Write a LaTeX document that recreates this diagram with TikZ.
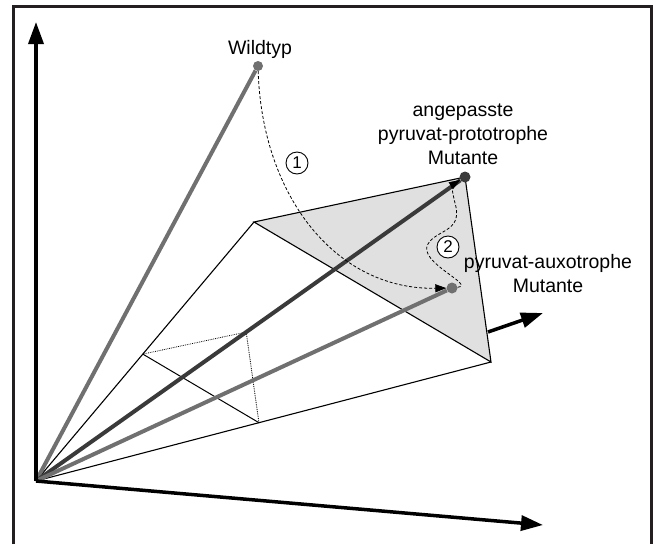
\documentclass[tikz,border=0pt]{standalone}
\usepackage{fontspec}
\setmainfont{Liberation Sans}
\usetikzlibrary{arrows.meta,calc}
\definecolor{vecgray}{RGB}{112,112,112}
\definecolor{vecdark}{RGB}{58,58,58}
\definecolor{facegray}{RGB}{224,224,224}
\definecolor{framec}{RGB}{35,31,32}

\begin{document}
\begin{tikzpicture}[x=1pt, y=-1pt,
  axis/.style={line width=3.5pt, -{Triangle[length=22pt,width=15pt]}},
  edge/.style={line width=1.1pt},
  vec/.style={line width=4pt, vecgray},
  dot/.style={circle, fill=vecgray, inner sep=0pt, minimum size=11pt},
  move/.style={dash pattern=on 3pt off 2pt, line width=0.8pt,
               -{Triangle[length=11pt,width=8pt]}},
  numc/.style={circle, draw, fill=white, line width=0.9pt, inner sep=0pt,
               minimum size=22pt, font=\fontsize{17}{17}\selectfont},
  lbl/.style={inner sep=0pt, align=center, font=\fontsize{19.5}{24}\selectfont}]

\useasboundingbox (0,0) rectangle (656,544);
\draw[framec, line width=3pt] (13,544) -- (13,6) -- (651,6) -- (651,544);

% corners of the cone
\coordinate (O) at (36,481);
\coordinate (A) at (254,222);
\coordinate (B) at (465,177);
\coordinate (C) at (491,362);
\coordinate (yend) at (36,22);
\coordinate (xend) at (543,525);
\coordinate (zs) at (488,332);
\coordinate (zend) at (543,313);

\fill[facegray] (A) -- (B) -- (C) -- cycle;
\draw[edge] (O) -- (A);
\draw[edge] (O) -- (C);
\draw[edge] (A) -- (B) -- (C) -- cycle;

% cut through the cone
\coordinate (s1) at ($(O)!0.49!(A)$);
\coordinate (s2) at ($(O)!0.49!(C)$);
\coordinate (s3) at ($(O)!0.49!(B)$);
\draw[line width=1pt] (s1) -- (s2);
\draw[densely dotted, line width=0.8pt] (s1) -- (s3) -- (s2);

\node[dot, minimum size=10pt] (wild) at (258,66) {};
\node[dot, fill=vecdark] (proto) at (B) {};
\node[dot] (auxo) at (452,288) {};

\draw[vec] (O) -- (wild);
\draw[vec, vecdark] (O) -- (proto);
\draw[vec] (O) -- (auxo);

\draw[move] (wild) .. controls (262,195) and (335,290) .. (auxo);
\draw[move] (auxo) .. controls (476,285) and (417,262) .. (428,244)
  .. controls (436,230) and (461,232) .. (456,207)
  .. controls (452,192) and (452,185) .. (proto);

\node[numc] (n1) at (297,163) {1};
\node[numc] (n2) at (448,247) {2};

\node[lbl, anchor=base] (wildlbl) at (260,54) {Wildtyp};
\node[lbl, anchor=south] (protolbl) at (463,165)
  {angepasste\\pyruvat-prototrophe\\Mutante};
\node[lbl, anchor=south] (auxolbl) at (548,293) {pyruvat-auxotrophe\\Mutante};

\draw[axis] (O) -- (yend);
\draw[axis] (O) -- (xend);
\draw[axis] (zs) -- (zend);
\end{tikzpicture}
\end{document}
